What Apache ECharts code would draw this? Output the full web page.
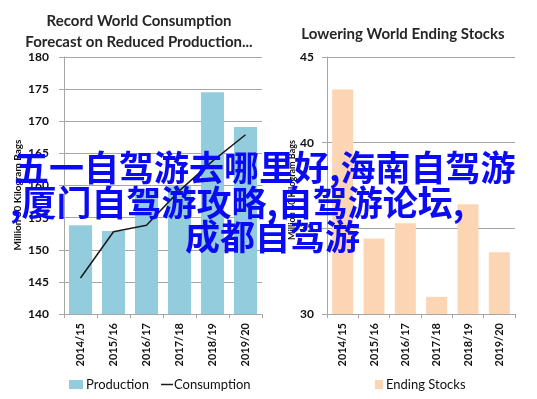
<!DOCTYPE html>
<html lang="en">
<head>
    <meta charset="UTF-8">
    <title>Coffee Production and Stocks</title>
    <script src="https://cdn.jsdelivr.net/npm/echarts@6/dist/echarts.min.js"></script>
    <style>
        body { margin: 0; background: #fff; }
        #chart { width: 537px; height: 399px; }
    </style>
</head>
<body>
    <div id="chart"></div>
    <script type="text/javascript">
        // data
        var years = ['2014/15', '2015/16', '2016/17', '2017/18', '2018/19', '2019/20'];
        var production = [153.8, 152.9, 159.4, 159.9, 174.5, 169.1];
        var consumption = [145.6, 152.8, 153.8, 159.2, 163.8, 167.9];
        var endingStocks = [43.1, 34.4, 35.3, 31.0, 36.4, 33.6];
        var overlayLines = ['五一自驾游去哪里好,海南自驾游', ',厦门自驾游攻略,自驾游论坛,', '成都自驾游'];

        var font = 'Lato, "Noto Sans", sans-serif';
        var gridGray = '#a6a6a6';

        function xAxis(gridIndex) {
            return {
                type: 'category',
                gridIndex: gridIndex,
                data: years,
                axisLine: { lineStyle: { color: gridGray } },
                axisTick: { show: true, length: 4, lineStyle: { color: gridGray } },
                axisLabel: {
                    rotate: 90, margin: 9, color: '#111',
                    fontFamily: font, fontWeight: 'bold', fontSize: 11
                }
            };
        }

        function yAxis(gridIndex, min, max, margin) {
            return {
                type: 'value',
                gridIndex: gridIndex,
                min: min, max: max, interval: 5,
                axisLine: { show: true, lineStyle: { color: gridGray } },
                axisTick: { show: true, length: 5, lineStyle: { color: gridGray } },
                splitLine: { lineStyle: { color: gridGray } },
                axisLabel: {
                    margin: margin, color: '#111',
                    fontFamily: font, fontWeight: 'bold', fontSize: 12
                }
            };
        }

        var myChart = echarts.init(document.getElementById('chart'));

        var option = {
            animation: false,
            title: [
                {
                    text: 'Record World Consumption\nForecast on Reduced Production...',
                    left: 134, top: 6, textAlign: 'center',
                    textStyle: { fontFamily: font, fontWeight: 'bold', fontSize: 15, lineHeight: 21, color: '#262626' }
                },
                {
                    text: 'Lowering World Ending Stocks',
                    left: 398, top: 22, textAlign: 'center',
                    textStyle: { fontFamily: font, fontWeight: 'bold', fontSize: 15, color: '#262626' }
                }
            ],
            grid: [
                { left: 64, top: 57, width: 198, height: 257 },
                { left: 327, top: 57, width: 188, height: 257 }
            ],
            legend: [
                {
                    data: [{ name: 'Production', icon: 'rect' }],
                    left: 64, top: 373, itemWidth: 14, itemHeight: 9, itemGap: 4,
                    textStyle: { fontFamily: font, fontSize: 13, color: '#111', padding: [0, 0, 0, -2] }
                },
                {
                    data: [{ name: 'Consumption', icon: 'rect' }],
                    left: 156, top: 373, itemWidth: 12, itemHeight: 1.5,
                    textStyle: { fontFamily: font, fontSize: 13, color: '#111', padding: [0, 0, 0, -4] }
                },
                {
                    data: [{ name: 'Ending Stocks', icon: 'rect' }],
                    left: 370, top: 373, itemWidth: 8, itemHeight: 9,
                    textStyle: { fontFamily: font, fontSize: 13, color: '#111', padding: [0, 0, 0, -2] }
                }
            ],
            xAxis: [xAxis(0), xAxis(1)],
            yAxis: [yAxis(0, 140, 180, 15), yAxis(1, 30, 45, 13)],
            series: [
                {
                    name: 'Production', type: 'bar',
                    xAxisIndex: 0, yAxisIndex: 0,
                    data: production, barCategoryGap: '30%',
                    itemStyle: { color: '#93cddd' }
                },
                {
                    name: 'Consumption', type: 'line',
                    xAxisIndex: 0, yAxisIndex: 0,
                    data: consumption, symbol: 'none',
                    lineStyle: { color: '#1a1a1a', width: 1.5 },
                    itemStyle: { color: '#1a1a1a' }
                },
                {
                    name: 'Ending Stocks', type: 'bar',
                    xAxisIndex: 1, yAxisIndex: 1,
                    data: endingStocks, barCategoryGap: '33%',
                    itemStyle: { color: '#fcd5b5' }
                }
            ],
            graphic: [
                {
                    type: 'text', x: 18, y: 195, rotation: Math.PI / 2,
                    style: {
                        text: 'Million 60 Kilogram Bags', fill: '#111',
                        font: 'bold 10px ' + font, align: 'center', verticalAlign: 'middle'
                    }
                },
                {
                    type: 'text', x: 292, y: 190, rotation: Math.PI / 2,
                    style: {
                        text: 'Million 60 Kilogram Bags', fill: '#111',
                        font: 'bold 9px ' + font, align: 'center', verticalAlign: 'middle'
                    }
                },
                // blue overlay text on top of both charts
                {
                    type: 'text', x: 14, y: 168, z: 100,
                    style: {
                        text: overlayLines[0], fill: '#0a0af5',
                        font: 'bold 35px "Noto Sans CJK SC"', verticalAlign: 'middle'
                    }
                },
                {
                    type: 'text', x: 10, y: 203, z: 100,
                    style: {
                        text: overlayLines[1], fill: '#0a0af5',
                        font: 'bold 35px "Noto Sans CJK SC"', verticalAlign: 'middle'
                    }
                },
                {
                    type: 'text', x: 185, y: 237, z: 100,
                    style: {
                        text: overlayLines[2], fill: '#0a0af5',
                        font: 'bold 35px "Noto Sans CJK SC"', verticalAlign: 'middle'
                    }
                }
            ]
        };

        myChart.setOption(option);
    </script>
</body>
</html>
